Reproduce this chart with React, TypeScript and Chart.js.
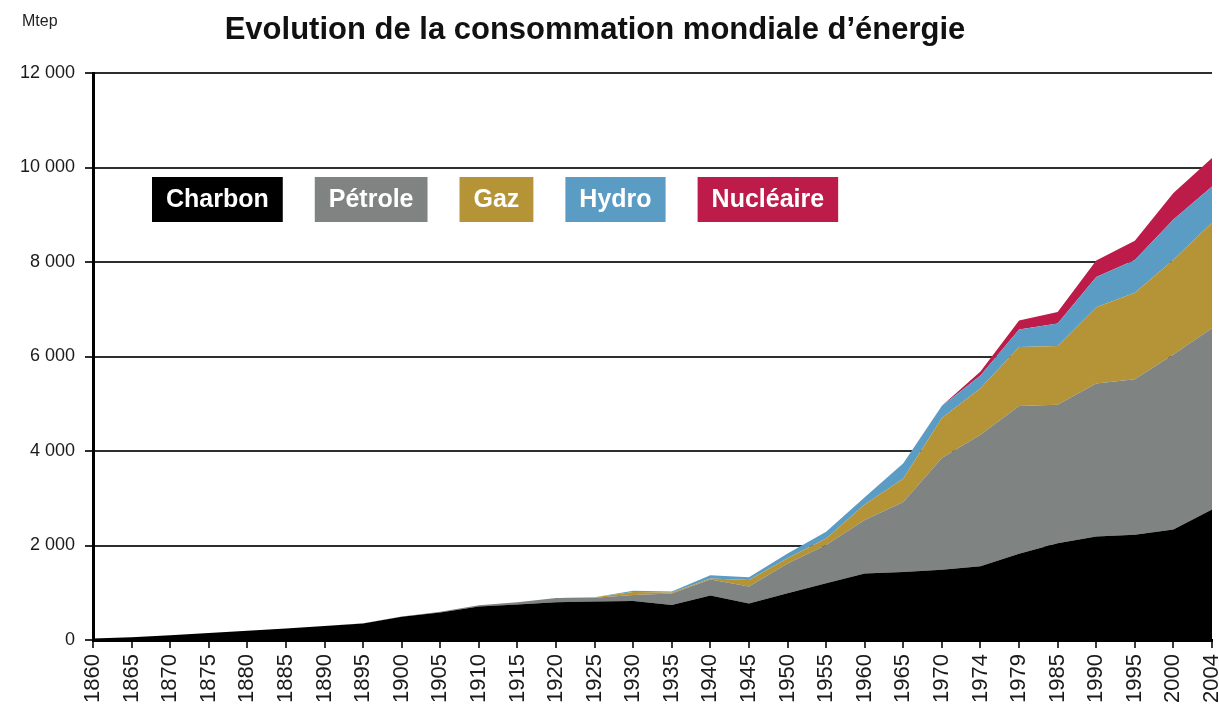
import React, { useEffect, useRef } from "react";
import { Chart, registerables } from "chart.js";

Chart.register(...registerables);

const titleText = "Evolution de la consommation mondiale d’énergie";
const unitLabel = "Mtep";

const years = [
  "1860", "1865", "1870", "1875", "1880", "1885", "1890", "1895", "1900", "1905",
  "1910", "1915", "1920", "1925", "1930", "1935", "1940", "1945", "1950", "1955",
  "1960", "1965", "1970", "1974", "1979", "1985", "1990", "1995", "2000", "2004",
];

const charbon = [
  30, 56, 100, 147, 195, 245, 295, 350, 490, 580,
  710, 750, 800, 815, 825, 740, 940, 775, 990, 1200,
  1410, 1440, 1488, 1560, 1825, 2045, 2190, 2225, 2340, 2760,
];
const petrole = [
  0, 0, 0, 0, 0, 0, 0, 5, 10, 20,
  25, 50, 90, 80, 125, 245, 340, 355, 630, 810,
  1130, 1480, 2362, 2785, 3125, 2935, 3240, 3295, 3700, 3840,
];
const gaz = [
  0, 0, 0, 0, 0, 0, 0, 0, 0, 0,
  0, 0, 0, 10, 65, 20, 20, 140, 110, 140,
  330, 500, 850, 985, 1250, 1240, 1610, 1830, 2010, 2230,
];
const hydro = [
  0, 0, 0, 0, 0, 0, 0, 0, 0, 0,
  0, 0, 0, 0, 25, 20, 70, 60, 100, 140,
  150, 320, 250, 270, 370, 480, 640, 690, 850, 770,
];
const nucleaire = [
  0, 0, 0, 0, 0, 0, 0, 0, 0, 0,
  0, 0, 0, 0, 0, 0, 0, 0, 0, 0,
  0, 0, 10, 80, 190, 240, 350, 410, 560, 600,
];

const seriesNames = ["Charbon", "Pétrole", "Gaz", "Hydro", "Nucléaire"];
const seriesColors = ["#000000", "#7f8381", "#b59437", "#5b9cc4", "#bd1c4b"];

const yTickValues = [0, 2000, 4000, 6000, 8000, 10000, 12000];
const yTickLabels = ["0", "2 000", "4 000", "6 000", "8 000", "10 000", "12 000"];

const FONT = '"Liberation Sans", Arial, Helvetica, sans-serif';

const overlayPlugin = {
  id: "overlay",
  afterDraw(chart: any) {
    const ctx = chart.ctx;
    ctx.save();
    ctx.fillStyle = "#222";
    ctx.textBaseline = "middle";
    ctx.textAlign = "left";
    ctx.font = `16px ${FONT}`;
    ctx.fillText(unitLabel, 22, 22);

    ctx.fillStyle = "#111";
    ctx.textAlign = "center";
    ctx.font = `bold 31px ${FONT}`;
    ctx.fillText(titleText, 595, 30);

    ctx.font = `bold 25px ${FONT}`;
    let x = 152;
    chart.data.datasets.forEach((ds: any) => {
      const w = ctx.measureText(ds.label).width + 28;
      ctx.fillStyle = ds.backgroundColor;
      ctx.fillRect(x, 177, w, 45);
      ctx.fillStyle = "#ffffff";
      ctx.textAlign = "center";
      ctx.fillText(ds.label, x + w / 2, 200);
      x += w + 32;
    });
    ctx.restore();
  },
};

export default function App() {
  const ref = useRef<HTMLCanvasElement | null>(null);

  useEffect(() => {
    if (!ref.current) return;
    const values = [charbon, petrole, gaz, hydro, nucleaire];
    const chart = new Chart(ref.current, {
      type: "line",
      data: {
        labels: years,
        datasets: values.map((arr, i) => ({
          label: seriesNames[i],
          data: arr,
          backgroundColor: seriesColors[i],
          borderColor: seriesColors[i],
          borderWidth: 0,
          pointRadius: 0,
          pointHoverRadius: 0,
          tension: 0,
          fill: i === 0 ? "origin" : "-1",
        })),
      },
      options: {
        responsive: false,
        animation: false,
        events: [],
        layout: { padding: { left: 0, top: 73, right: 7, bottom: 0 } },
        plugins: {
          legend: { display: false },
          title: { display: false },
          tooltip: { enabled: false },
        },
        scales: {
          x: {
            type: "category",
            offset: false,
            z: 1,
            border: { display: true, color: "#000", width: 3 },
            grid: {
              drawOnChartArea: false,
              drawTicks: true,
              tickLength: 8,
              color: "#3a3a3a",
              lineWidth: 2,
            },
            ticks: {
              autoSkip: false,
              minRotation: 90,
              maxRotation: 90,
              padding: 6,
              color: "#1a1a1a",
              font: { family: FONT, size: 22 },
            },
            afterFit(scale: any) {
              scale.height = 67;
              scale.paddingLeft = 0;
              scale.paddingRight = 0;
            },
          },
          y: {
            stacked: true,
            min: 0,
            max: 12000,
            z: 1,
            afterBuildTicks(scale: any) {
              scale.ticks = yTickValues.map((v) => ({ value: v }));
            },
            border: { display: true, color: "#000", width: 3 },
            grid: {
              color: "#2e2e2e",
              lineWidth: 2,
              drawTicks: true,
              tickLength: 8,
            },
            ticks: {
              padding: 10,
              color: "#1a1a1a",
              font: { family: FONT, size: 18 },
              callback: (v: any) => {
                const i = yTickValues.indexOf(Number(v));
                return i >= 0 ? yTickLabels[i] : "";
              },
            },
            afterFit(scale: any) {
              scale.width = 93;
              scale.paddingTop = 0;
              scale.paddingBottom = 0;
            },
          },
        },
      },
      plugins: [overlayPlugin],
    });
    return () => chart.destroy();
  }, []);

  return (
    <div style={{ position: "fixed", left: 0, top: 0, width: 1219, height: 707, background: "#fff" }}>
      <canvas ref={ref} width={1219} height={707} style={{ display: "block" }} />
    </div>
  );
}
